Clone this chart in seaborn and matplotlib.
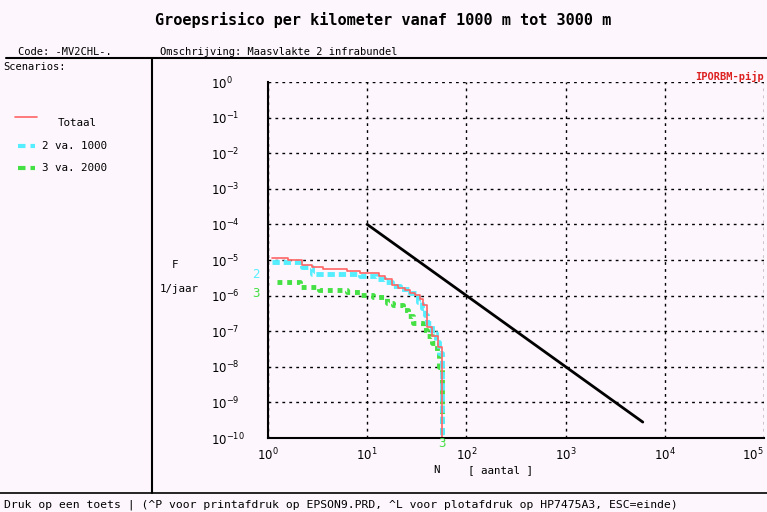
import numpy as np
import pandas as pd
import matplotlib
matplotlib.use("Agg")
import matplotlib.pyplot as plt
import seaborn as sns
from matplotlib.lines import Line2D
from matplotlib.ticker import FixedLocator, NullLocator

# ---------------- data ----------------
totaal_N = [1.1, 1.6, 2.2, 2.8, 3.6, 6.3, 8.5, 13, 15, 17.7, 20.6, 24, 27, 30.3,
            34, 36.5, 39.7, 45.5, 51.5, 56.4]
totaal_F = [1.15e-5, 1.0e-5, 7.2e-6, 6.2e-6, 5.5e-6, 4.9e-6, 4.3e-6, 3.5e-6, 2.9e-6,
            2.0e-6, 1.6e-6, 1.4e-6, 1.2e-6, 1.05e-6, 7.9e-7, 5.6e-7, 1.35e-7,
            7.1e-8, 3.6e-8, 3e-11]

s2_N = [1.1, 2.2, 2.75, 8.5, 12.5, 15, 17.7, 21.5, 27, 32.7, 35.4, 38, 40, 44.8,
        49, 53, 56.4]
s2_F = [8.7e-6, 6.3e-6, 4.0e-6, 3.5e-6, 3.0e-6, 2.45e-6, 1.86e-6, 1.5e-6, 1.15e-6,
        6.8e-7, 4.4e-7, 2.9e-7, 1.66e-7, 8.7e-8, 5.1e-8, 2.5e-8, 3e-11]

s3_N = [1.22, 2.1, 3.3, 6.2, 8.5, 11.5, 15.7, 18.2, 23.1, 25.9, 29.2, 36.8, 39.8,
        44.8, 50.1, 53.5, 56.6]
s3_F = [2.45e-6, 1.78e-6, 1.45e-6, 1.29e-6, 1.05e-6, 9.3e-7, 6.0e-7, 5.5e-7, 4.0e-7,
        2.6e-7, 1.66e-7, 1.07e-7, 7.1e-8, 4.6e-8, 2.4e-8, 1.0e-8, 3e-11]

norm_N = [10, 6000]
norm_F = [1e-4, 2.8e-10]

x_ticks = [1e0, 1e1, 1e2, 1e3, 1e4, 1e5]
x_labels = [r"$10^{0}$", r"$10^{1}$", r"$10^{2}$", r"$10^{3}$", r"$10^{4}$", r"$10^{5}$"]
y_ticks = [1e0, 1e-1, 1e-2, 1e-3, 1e-4, 1e-5, 1e-6, 1e-7, 1e-8, 1e-9, 1e-10]
y_labels = [r"$10^{0}$"] + [r"$10^{-%d}$" % k for k in range(1, 11)]

series_names = ["Totaal", "2 va. 1000", "3 va. 2000"]

title = "Groepsrisico per kilometer vanaf 1000 m tot 3000 m"
bottom_text = ("Druk op een toets | (^P voor printafdruk op EPSON9.PRD, "
               "^L voor plotafdruk op HP7475A3, ESC=einde)")

# ---------------- style ----------------
sns.set_theme(style="white")
plt.rcParams["font.family"] = ["DejaVu Sans Mono", "DejaVu Sans"]
plt.rcParams["mathtext.fontset"] = "dejavusans"
plt.rcParams["text.color"] = "black"
plt.rcParams["xtick.color"] = "black"
plt.rcParams["ytick.color"] = "black"

BG = "#fdf7fd"
RED = "#ff6464"
CYAN = "#55eeff"
GREEN = "#44e044"

fig = plt.figure(figsize=(7.67, 5.12), dpi=100, facecolor=BG)
W, H = 767.0, 512.0


def fx(px):
    return px / W


def fy(py):
    return 1 - py / H


ax = fig.add_axes([fx(268), fy(438), fx(764) - fx(268), fy(82) - fy(438)])
ax.set_facecolor(BG)

df_tot = pd.DataFrame({"N": totaal_N, "F": totaal_F})
df_2 = pd.DataFrame({"N": s2_N, "F": s2_F})
df_3 = pd.DataFrame({"N": s3_N, "F": s3_F})
df_norm = pd.DataFrame({"N": norm_N, "F": norm_F})

sns.lineplot(data=df_3, x="N", y="F", ax=ax, color=GREEN, lw=3.5,
             linestyle=(0, (1, 1)), drawstyle="steps-post", errorbar=None,
             sort=False, dash_capstyle="butt")
sns.lineplot(data=df_2, x="N", y="F", ax=ax, color=CYAN, lw=3.5,
             linestyle=(0, (1.5, 0.8)), drawstyle="steps-post", errorbar=None,
             sort=False, dash_capstyle="butt")
sns.lineplot(data=df_tot, x="N", y="F", ax=ax, color=RED, lw=1.2,
             drawstyle="steps-post", errorbar=None, sort=False)
sns.lineplot(data=df_norm, x="N", y="F", ax=ax, color="black", lw=2,
             errorbar=None, sort=False)

ax.set_xscale("log")
ax.set_yscale("log")
ax.set_xlim(1, 1e5)
ax.set_ylim(1e-10, 1)
ax.xaxis.set_major_locator(FixedLocator(x_ticks))
ax.yaxis.set_major_locator(FixedLocator(y_ticks))
ax.xaxis.set_minor_locator(NullLocator())
ax.yaxis.set_minor_locator(NullLocator())
ax.set_xticklabels(x_labels, fontsize=8.5, color="black")
ax.set_yticklabels(y_labels, fontsize=8.5, color="black")
for t in ax.get_yticklabels():
    t.set_ha("left")
    t.set_va("center_baseline")
xt = ax.get_xticklabels()
xt[-1].set_ha("right")
ax.tick_params(axis="y", length=0, pad=41)
ax.tick_params(axis="x", length=0, pad=6)
ax.set_xlabel("")
ax.set_ylabel("")

ax.grid(True, which="major", color="black", linestyle=(0, (2, 3)), lw=1)
for s in ["top", "right"]:
    ax.spines[s].set_visible(False)
for s in ["left", "bottom"]:
    ax.spines[s].set_color("black")
    ax.spines[s].set_linewidth(1.5)

# curve labels
ax.text(-0.025, 10 ** -5.4, "2", transform=ax.get_yaxis_transform(), color=CYAN,
        fontsize=9, ha="center", va="center")
ax.text(-0.025, 10 ** -5.95, "3", transform=ax.get_yaxis_transform(), color=GREEN,
        fontsize=9, ha="center", va="center")
ax.text(56.5, -0.015, "3", transform=ax.get_xaxis_transform(), color=GREEN,
        fontsize=9, ha="center", va="center")

# ---------------- frame & annotations ----------------
fig.text(0.5, fy(20), title, ha="center", va="center", fontsize=11,
         fontweight="bold")
fig.text(fx(18), fy(52), "Code: -MV2CHL-.", ha="left", va="center", fontsize=7.5)
fig.text(fx(160), fy(52), "Omschrijving: Maasvlakte 2 infrabundel", ha="left",
         va="center", fontsize=7.5)
fig.add_artist(Line2D([fx(6), 1], [fy(58), fy(58)], color="black", lw=1.5))
fig.add_artist(Line2D([fx(152), fx(152)], [fy(58), fy(493)], color="black", lw=1.5))
fig.add_artist(Line2D([0, 1], [fy(493), fy(493)], color="black", lw=1.2))
fig.text(fx(3), fy(67), "Scenarios:", ha="left", va="center", fontsize=7.5)

# legend
fig.add_artist(Line2D([fx(15), fx(37)], [fy(117), fy(117)], color=RED, lw=1.2))
fig.text(fx(58), fy(123), series_names[0], ha="left", va="center", fontsize=7.8)
fig.add_artist(Line2D([fx(18), fx(35)], [fy(146), fy(146)], color=CYAN, lw=3,
                      linestyle=(0, (1.8, 1.2)), dash_capstyle="butt"))
fig.text(fx(42), fy(146), series_names[1], ha="left", va="center", fontsize=7.8)
fig.add_artist(Line2D([fx(18), fx(35)], [fy(168), fy(168)], color=GREEN, lw=3,
                      linestyle=(0, (1.8, 1.2)), dash_capstyle="butt"))
fig.text(fx(42), fy(168), series_names[2], ha="left", va="center", fontsize=7.8)

fig.text(fx(175), fy(265), "F", ha="center", va="center", fontsize=7.8)
fig.text(fx(160), fy(289), "1/jaar", ha="left", va="center", fontsize=7.8)
fig.text(fx(436), fy(470), "N", ha="center", va="center", fontsize=7.8)
fig.text(fx(468), fy(470), "[ aantal ]", ha="left", va="center", fontsize=7.8)
fig.text(fx(764), fy(76), "IPORBM-pijp", ha="right", va="center", fontsize=7.5,
         color="#dd2020", fontweight="bold")
fig.text(fx(4), fy(505), bottom_text, ha="left", va="center", fontsize=8.2)

fig.savefig("out.png", dpi=100, facecolor=BG)
